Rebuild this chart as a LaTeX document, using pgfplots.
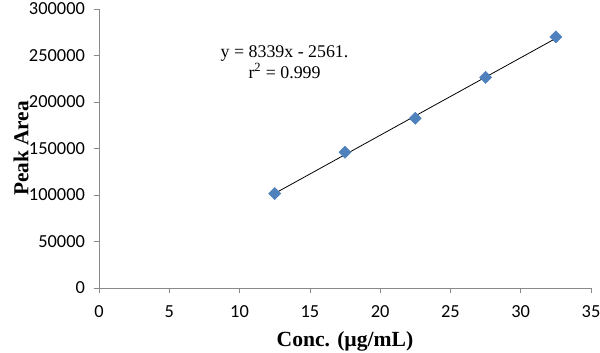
\documentclass[border=0pt]{standalone}
\usepackage{fontspec}
\setmainfont{Liberation Serif}
\newfontfamily\calib{Carlito}
\usepackage{pgfplots}
\pgfplotsset{compat=1.18}
\definecolor{ptblue}{HTML}{4F81BD}
\definecolor{axgray}{HTML}{898989}

\begin{document}
\begin{tikzpicture}
\useasboundingbox (0,0) rectangle (450pt,264.75pt);
\begin{axis}[
  at={(74.25pt,48.75pt)}, anchor=south west,
  scale only axis,
  width=369pt, height=209.25pt,
  xmin=0, xmax=35, ymin=0, ymax=300000,
  xtick={0,5,...,35},
  ytick={0,50000,...,300000},
  axis lines=left,
  axis line style={axgray, -},
  tick style={axgray, thin},
  tick align=outside,
  major tick length=4pt,
  scaled y ticks=false,
  /pgf/number format/assume math mode=true,
  yticklabel={\pgfmathprintnumber[fixed,1000 sep={}]{\tick}},
  ticklabel style={font=\calib\fontsize{13.8}{15}\selectfont},
  yticklabel style={xshift=-3pt},
  xticklabel style={yshift=-6pt},
  xlabel={Conc. (µg/mL)},
  ylabel={Peak Area},
  every axis x label/.style={at={(axis description cs:0.5,-0.192)},anchor=center,
    font=\bfseries\fontsize{16.2}{18}\selectfont},
  every axis y label/.style={at={(axis description cs:-0.1585,0.5)},rotate=90,anchor=center,
    font=\bfseries\fontsize{16}{18}\selectfont},
  clip=false,
]
\addplot[black, semithick, no marks] coordinates {(12.5,101677) (32.5,268457)};
\addplot[only marks, mark=square*, mark size=3.2pt,
  mark options={rotate=45, fill=ptblue, draw=ptblue}] coordinates {
  (12.5,101500)
  (17.5,146000)
  (22.5,182500)
  (27.5,226500)
  (32.5,270000)
};
\node[align=center, font=\fontsize{13.4}{14}\selectfont] at (axis cs:13.2,243000)
  {y = 8339x - 2561.\\r\textsuperscript{2} = 0.999};
\end{axis}
\end{tikzpicture}
\end{document}
